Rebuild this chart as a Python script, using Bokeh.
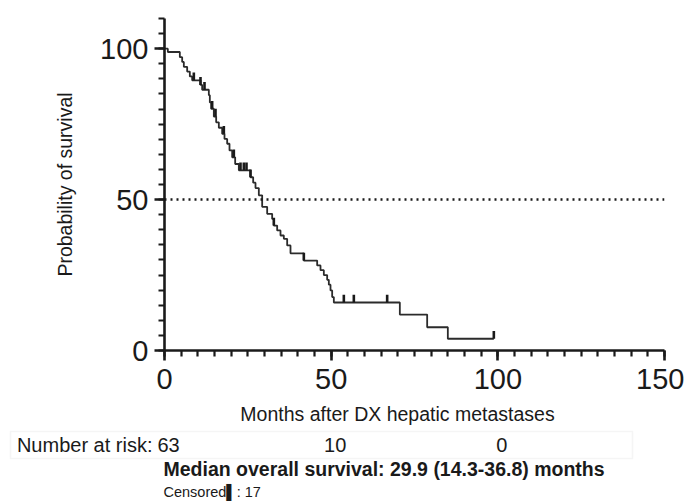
import numpy as np
from bokeh.plotting import figure
from bokeh.layouts import column
from bokeh.models import FixedTicker, Range1d, ColumnDataSource, Span, BoxAnnotation
from bokeh.core.properties import value
from bokeh.embed import file_html
from bokeh.resources import INLINE

# ---- data ----
event_times = [0, 1.0, 4.6, 5.3, 5.8, 6.8, 7.6, 8.3, 10.8, 11.3, 13.3, 13.6, 14.0, 14.8, 15.5,
               16.3, 17.3, 18.0, 18.8, 19.5, 20.3, 21.2, 22.3, 25.8, 26.6, 27.3, 28.3, 29.3,
               30.8, 32.3, 32.8, 33.8, 34.8, 35.8, 36.8, 37.8, 41.8, 45.8, 46.8, 47.8, 48.8,
               49.3, 49.8, 50.3, 50.8, 70.6, 78.8, 85.0]
survival = [100, 98.9, 97.2, 95.6, 94.0, 92.4, 90.8, 89.5, 88.0, 86.4, 84.6, 82.2, 80.1, 77.5,
            75.6, 73.8, 71.8, 70.1, 68.5, 66.3, 64.0, 61.8, 59.7, 57.4, 55.6, 53.8, 51.4, 47.6,
            45.3, 43.6, 41.4, 39.8, 38.1, 37.0, 34.8, 32.2, 29.8, 28.2, 26.6, 25.0, 23.4, 21.8,
            19.9, 17.7, 15.9, 11.9, 7.7, 3.9]
follow_up_end = 98.8
censor_times = [8.8, 10.8, 12.0, 14.3, 15.3, 17.8, 20.8, 22.8, 23.8, 24.6, 25.8, 32.8, 41.8,
                53.8, 56.8, 66.8, 98.8]
median_level = 50
risk_times = [0, 50, 100]
risk_counts = [63, 10, 0]
x_ticks = [0, 50, 100, 150]
y_ticks = [0, 50, 100]

FONT = "Liberation Sans"
INK = "#1a1a1a"

# ---- main Kaplan-Meier plot ----
p = figure(width=684, height=401, x_range=Range1d(0, 150), y_range=Range1d(0, 110),
           output_backend="svg", toolbar_location=None,
           min_border_left=164, min_border_right=20, min_border_top=18, min_border_bottom=51)
p.frame_align = False
p.grid.visible = False
p.outline_line_color = None
p.background_fill_color = "white"
p.border_fill_color = "white"

p.add_layout(Span(location=median_level, dimension="width", line_color=INK,
                  line_width=2.5, line_dash="2 4"))

sx = list(event_times) + [follow_up_end]
sy = list(survival) + [survival[-1]]
p.step(x=sx, y=sy, mode="after", line_color="#2b2b2b", line_width=1.8)

et = np.array(event_times)
sv = np.array(survival)
ct = np.array(censor_times)
cs = sv[np.searchsorted(et, ct, side="right") - 1]
p.segment(x0=ct, y0=cs, x1=ct, y1=cs + 2.6, line_color="#1a1a1a", line_width=2.6)

p.xaxis.ticker = FixedTicker(ticks=x_ticks, minor_ticks=list(range(0, 151, 5)))
p.yaxis.ticker = FixedTicker(ticks=y_ticks, minor_ticks=list(range(0, 111, 5)))
p.axis.axis_line_width = 2.6
p.axis.axis_line_color = INK
p.axis.major_tick_line_width = 2.6
p.axis.minor_tick_line_width = 2.2
p.axis.major_tick_line_color = INK
p.axis.minor_tick_line_color = INK
p.axis.major_tick_in = 0
p.axis.minor_tick_in = 0
p.axis.major_tick_out = 10
p.axis.minor_tick_out = 6
p.axis.major_label_text_font = FONT
p.axis.major_label_text_color = INK
p.axis.axis_label_text_font = FONT
p.axis.axis_label_text_font_style = "normal"
p.axis.axis_label_text_color = INK

p.xaxis.major_label_text_font_size = "29px"
p.xaxis.major_label_standoff = 8

p.yaxis.axis_label = "Probability of survival"
p.yaxis.major_label_text_font_size = "29px"
p.yaxis.axis_label_text_font_size = "19.5px"
p.yaxis.major_label_standoff = 6
p.yaxis.axis_label_standoff = 21

# ---- x-axis title, number at risk and footnotes ----
px_per_month = 500 / 150
q = figure(width=684, height=100, x_range=Range1d(-164 / px_per_month, 520 / px_per_month),
           y_range=Range1d(0, 100), output_backend="svg", toolbar_location=None,
           min_border=0, x_axis_type=None, y_axis_type=None)
q.frame_align = False
q.grid.visible = False
q.outline_line_color = None
q.background_fill_color = "white"
q.border_fill_color = "white"

q.text(x=[69.9], y=[88], text=["Months after DX hepatic metastases"], text_align="center",
       text_baseline="middle", text_font=value(FONT), text_font_size="19.5px", text_color=INK)

row_y = 57
q.add_layout(BoxAnnotation(left=-154 / px_per_month, right=468 / px_per_month, bottom=43, top=70,
                           fill_alpha=0, line_color="#dedede", line_width=1.5))
q.text(x=[-3.6], y=[row_y], text=["Number at risk:"], text_align="right",
       text_baseline="middle", text_font=value(FONT), text_font_size="20px", text_color=INK)
rsrc = ColumnDataSource(dict(x=risk_times, y=[row_y] * len(risk_times),
                             t=[str(c) for c in risk_counts]))
q.text(x="x", y="y", text="t", source=rsrc, x_offset=4, text_align="center",
       text_baseline="middle", text_font=value(FONT), text_font_size="20px", text_color=INK)
q.text(x=[-0.3], y=[33], text=["Median overall survival: 29.9 (14.3-36.8) months"],
       text_align="left", text_baseline="middle", text_font=value(FONT),
       text_font_size="19.5px", text_font_style="bold", text_color=INK)
q.text(x=[-0.3], y=[10], text=["Censored\u258c: %d" % len(censor_times)],
       text_align="left", text_baseline="middle", text_font=value(FONT),
       text_font_size="14.5px", text_color=INK)

layout = column(p, q, spacing=0)
open("out.html", "w").write(file_html(layout, INLINE))
